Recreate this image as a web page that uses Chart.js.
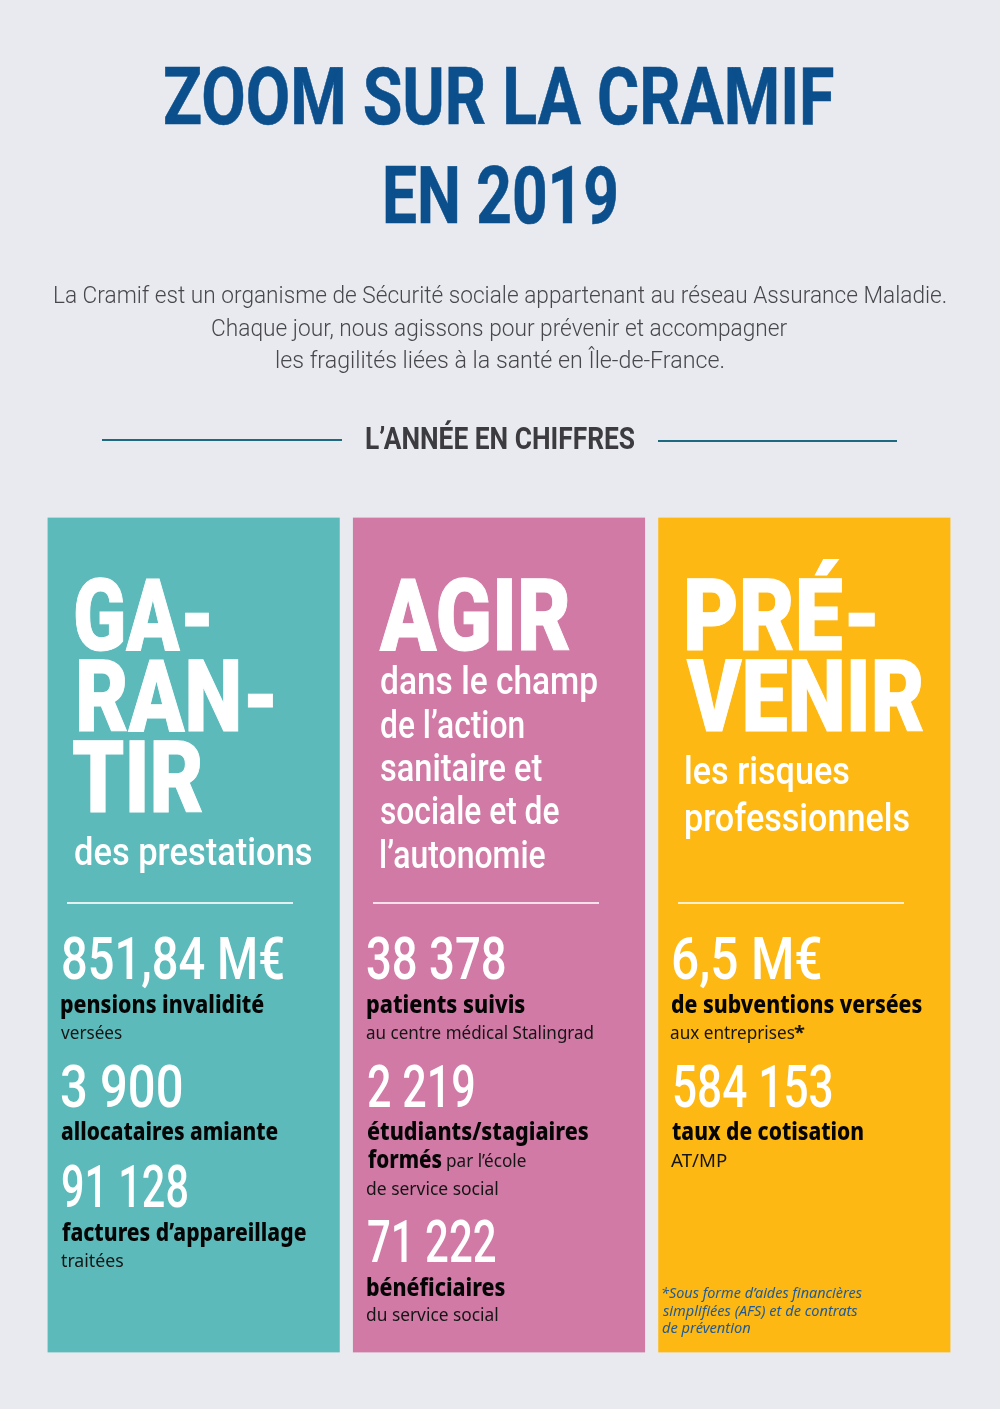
<!DOCTYPE html>
<html lang="fr">
<head>
<meta charset="utf-8">
<title>Zoom sur la Cramif en 2019</title>
<script src="https://cdn.jsdelivr.net/npm/chart.js@4/dist/chart.umd.min.js"></script>
<style>
  html, body { margin: 0; padding: 0; background: #e9eaef; }
  #page { position: relative; width: 1000px; height: 1409px; overflow: hidden; }
  #panels { position: absolute; left: 0; top: 0; }
  .t { position: absolute; white-space: pre; transform-origin: 0 0; line-height: 1.2; }
  .rule { position: absolute; }
</style>
</head>
<body>
<div id="page"><canvas id="panels" width="1000" height="1409"></canvas></div>
<script>
const categories = ["Garantir", "Agir", "Prévenir"];
const panelSpans = [[0, 1], [0, 1], [0, 1]];
const panelColors = ["#5cbaba", "#d07aa5", "#fdb813"];

const titleLines = ["ZOOM SUR LA CRAMIF", "EN 2019"];
const introLines = [
  "La Cramif est un organisme de Sécurité sociale appartenant au réseau Assurance Maladie.",
  "Chaque jour, nous agissons pour prévenir et accompagner",
  "les fragilités liées à la santé en Île-de-France.",
];
const sectionTitle = "L’ANNÉE EN CHIFFRES";

const garantirHead = ["GA-", "RAN-", "TIR"];
const garantirSub = ["des prestations"];
const agirHead = ["AGIR"];
const agirSub = ["dans le champ", "de l’action", "sanitaire et", "sociale et de", "l’autonomie"];
const prevenirHead = ["PRÉ-", "VENIR"];
const prevenirSub = ["les risques", "professionnels"];

const garantirValues = ["851,84 M€", "3 900", "91 128"];
const garantirLabels = ["pensions invalidité", "allocataires amiante", "factures d’appareillage"];
const garantirNotes = ["versées", "traitées"];
const agirValues = ["38 378", "2 219", "71 222"];
const agirLabels = ["patients suivis", "étudiants/stagiaires", "formés", "bénéficiaires"];
const agirNotes = ["au centre médical Stalingrad", "par l’école", "de service social", "du service social"];
const prevenirValues = ["6,5 M€", "584 153"];
const prevenirLabels = ["de subventions versées", "taux de cotisation"];
const prevenirNotes = ["aux entreprises", "*", "AT/MP"];
const footnoteLines = ["*Sous forme d’aides financières", "simplifiées (AFS) et de contrats", "de prévention"];

new Chart(document.getElementById("panels"), {
  type: "bar",
  data: {
    labels: categories,
    datasets: [{
      data: panelSpans,
      backgroundColor: panelColors,
      barThickness: 291.5,
      borderWidth: 0,
    }],
  },
  options: {
    responsive: false,
    animation: false,
    layout: { padding: { left: 41, right: 43, top: 517.5, bottom: 56.5 } },
    plugins: { legend: { display: false }, tooltip: { enabled: false } },
    scales: {
      x: { display: false, grid: { display: false } },
      y: { display: false, min: 0, max: 1, grid: { display: false } },
    },
  },
});

const page = document.getElementById("page");
const scratch = document.createElement("canvas");
scratch.width = 1300;
scratch.height = 200;
const ruler = scratch.getContext("2d", { willReadFrequently: true });

const styles = {
  title: { font: "700 80px Roboto", color: "#0b4f8c", stroke: 0.6, inset: 2 },
  intro: { font: "300 24px Roboto", color: "#47474c", inset: 2 },
  section: { font: "700 32px Roboto", color: "#3c3c40", inset: 1 },
  head: { font: "900 101px Roboto", color: "#ffffff", stroke: 1, inset: 3 },
  sub: { font: "500 38px Roboto", color: "#ffffff", inset: 2 },
  value: { font: "500 59px Roboto", color: "#ffffff", inset: 1 },
  label: { font: "800 25px 'Noto Sans'", color: "#050505", inset: 1 },
  note: { font: "400 18px 'Noto Sans'", color: "#151515", inset: 0 },
  star: { font: "700 18px 'Noto Sans'", color: "#151515", inset: 0 },
  foot: { font: "italic 400 15px 'Noto Sans'", color: "#1f5a96", inset: 0 },
};

// side bearings of a line, read from its rasterised ink
function bearings(text, font) {
  const origin = 20;
  ruler.clearRect(0, 0, scratch.width, scratch.height);
  ruler.font = font;
  ruler.fillStyle = "#000";
  ruler.fillText(text, origin, 140);
  const advance = ruler.measureText(text).width;
  const { data } = ruler.getImageData(0, 0, scratch.width, scratch.height);
  let first = scratch.width;
  let last = 0;
  for (let y = 0; y < scratch.height; y++) {
    for (let x = 0; x < scratch.width; x++) {
      if (data[(y * scratch.width + x) * 4 + 3] > 96) {
        if (x < first) first = x;
        if (x > last) last = x;
      }
    }
  }
  return { left: first - origin, right: origin + advance - (last + 1) };
}

// places a line so its ink runs from x0 to x1 and sits on the given baseline
function put(text, x0, x1, baseline, style) {
  const el = document.createElement("div");
  el.className = "t";
  el.textContent = text;
  el.style.font = style.font;
  el.style.lineHeight = "1.2";
  el.style.color = style.color;
  el.style.top = "0px";
  el.style.left = "0px";
  if (style.stroke) {
    el.style.webkitTextStroke = `${style.stroke}px ${style.color}`;
  }
  page.appendChild(el);

  const start = x0 + style.inset;
  const end = x1 - style.inset / 2;
  const side = bearings(text, style.font);
  const boxWidth = el.getBoundingClientRect().width;
  const scale = (end - start) / (boxWidth - side.left - side.right);
  el.style.left = `${start - side.left * scale}px`;

  const probe = document.createElement("span");
  probe.style.display = "inline-block";
  el.appendChild(probe);
  el.style.top = `${baseline - probe.getBoundingClientRect().bottom}px`;
  probe.remove();
  el.style.transform = `scaleX(${scale})`;
}

function rule(x0, x1, y, height, color) {
  const el = document.createElement("div");
  el.className = "rule";
  el.style.cssText = `left:${x0}px;top:${y}px;width:${x1 - x0}px;height:${height}px;background:${color}`;
  page.appendChild(el);
}

// header
put(titleLines[0], 163, 834, 124, styles.title);
put(titleLines[1], 384, 617, 223, styles.title);
put(introLines[0], 53, 946, 303, styles.intro);
put(introLines[1], 210, 788, 336, styles.intro);
put(introLines[2], 275, 724, 368, styles.intro);
put(sectionTitle, 366, 635, 449, styles.section);
rule(102, 342, 438.5, 2, "#1d6a80");
rule(658, 897, 439.5, 2, "#1d6a80");

// separators
rule(67, 293, 902, 1.5, "#e3f1f1");
rule(373, 599, 902, 1.5, "#f3e2ec");
rule(678, 904, 902, 1.5, "#fdf0cf");

// garantir
put(garantirHead[0], 73, 210, 650, styles.head);
put(garantirHead[1], 76, 274, 731, styles.head);
put(garantirHead[2], 71, 203, 812, styles.head);
put(garantirSub[0], 73, 312, 865, styles.sub);
put(garantirValues[0], 62, 283, 979, styles.value);
put(garantirLabels[0], 61, 264, 1013, styles.label);
put(garantirNotes[0], 61, 122, 1039, styles.note);
put(garantirValues[1], 61, 182, 1107, styles.value);
put(garantirLabels[1], 61, 278, 1140, styles.label);
put(garantirValues[2], 62, 187, 1207, styles.value);
put(garantirLabels[2], 61, 306, 1241, styles.label);
put(garantirNotes[1], 61, 123, 1267, styles.note);

// agir
put(agirHead[0], 377, 570, 650, styles.head);
put(agirSub[0], 379, 598, 694, styles.sub);
put(agirSub[1], 379, 525, 738, styles.sub);
put(agirSub[2], 379, 543, 781, styles.sub);
put(agirSub[3], 379, 560, 824, styles.sub);
put(agirSub[4], 379, 546, 868, styles.sub);
put(agirValues[0], 367, 505, 979, styles.value);
put(agirLabels[0], 367, 525, 1013, styles.label);
put(agirNotes[0], 367, 593, 1039, styles.note);
put(agirValues[1], 367, 473, 1107, styles.value);
put(agirLabels[1], 367, 589, 1140, styles.label);
put(agirLabels[2], 367, 442, 1168, styles.label);
put(agirNotes[1], 447, 526, 1167, styles.note);
put(agirNotes[2], 367, 497, 1195, styles.note);
put(agirValues[2], 367, 495, 1262, styles.value);
put(agirLabels[3], 367, 505, 1296, styles.label);
put(agirNotes[3], 367, 497, 1321, styles.note);

// prevenir
put(prevenirHead[0], 684, 876, 650, styles.head);
put(prevenirHead[1], 684, 924, 731, styles.head);
put(prevenirSub[0], 684, 850, 784, styles.sub);
put(prevenirSub[1], 684, 910, 831, styles.sub);
put(prevenirValues[0], 673, 821, 979, styles.value);
put(prevenirLabels[0], 671, 922, 1013, styles.label);
put(prevenirNotes[0], 671, 794, 1039, styles.note);
put(prevenirNotes[1], 795, 804, 1039, styles.star);
put(prevenirValues[1], 674, 832, 1107, styles.value);
put(prevenirLabels[1], 671, 863, 1140, styles.label);
put(prevenirNotes[2], 671, 726, 1167, styles.note);
put(footnoteLines[0], 663, 861, 1298, styles.foot);
put(footnoteLines[1], 663, 857, 1316, styles.foot);
put(footnoteLines[2], 663, 750, 1333, styles.foot);
</script>
</body>
</html>
